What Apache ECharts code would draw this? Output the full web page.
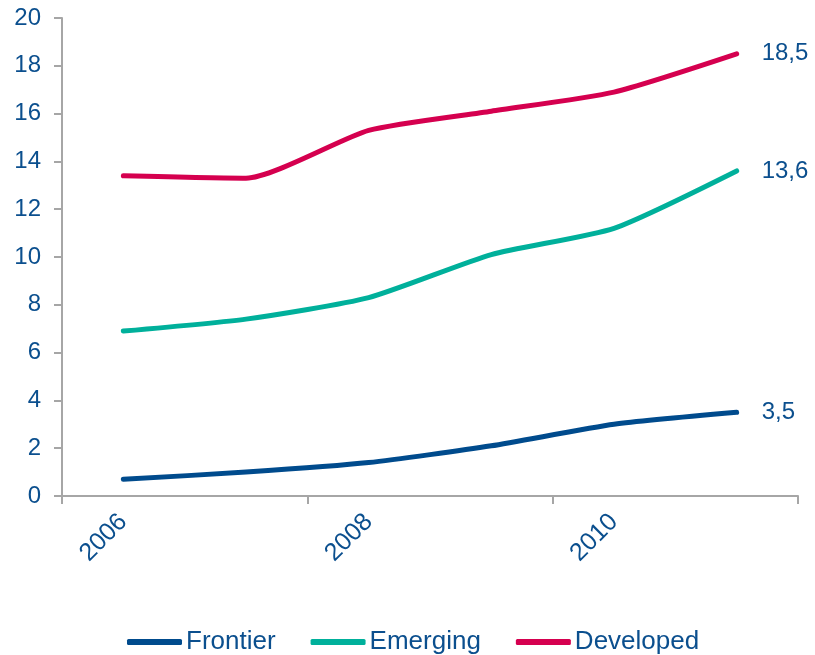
<!DOCTYPE html>
<html>
<head>
<meta charset="utf-8">
<style>
  html, body { margin: 0; padding: 0; background: #ffffff; }
  #chart { width: 815px; height: 655px; }
</style>
<script src="https://cdn.jsdelivr.net/npm/echarts@6/dist/echarts.min.js"></script>
</head>
<body>
<div id="chart"></div>
<script>
// Years on the horizontal axis
const years = ['2006', '2007', '2008', '2009', '2010', '2011'];

// Series values per year
const frontier  = [0.7, 1.0, 1.4, 2.1, 3.0, 3.5];
const emerging  = [6.9, 7.4, 8.3, 10.1, 11.2, 13.6];
const developed = [13.4, 13.3, 15.3, 16.1, 16.9, 18.5];

const seriesNames = ['Frontier', 'Emerging', 'Developed'];
const seriesColors = ['#004B8D', '#00B09B', '#D5004F'];

const textColor = '#0B4F8E';
const axisGrey = '#A6A6A6';
const fontFamily = '"Liberation Sans", Arial, sans-serif';

const chart = echarts.init(document.getElementById('chart'));

function lineSeries(name, data, color) {
  return {
    name: name,
    type: 'line',
    data: data,
    smooth: 0.2,
    symbol: 'none',
    lineStyle: { color: color, width: 5, cap: 'round', join: 'round' },
    itemStyle: { color: color },
    endLabel: {
      show: true,
      distance: 25,
      color: textColor,
      fontSize: 24,
      fontFamily: fontFamily,
      formatter: p => String(p.value).replace('.', ',')
    },
    emphasis: { disabled: true }
  };
}

chart.setOption({
  animation: false,
  backgroundColor: '#ffffff',
  textStyle: { fontFamily: fontFamily },
  grid: { left: 62, right: 17, top: 18, bottom: 159 },
  legend: {
    top: 624,
    left: 122,
    icon: 'roundRect',
    itemWidth: 55,
    itemHeight: 6,
    itemGap: 35,
    textStyle: { color: textColor, fontSize: 26, fontFamily: fontFamily, padding: [0, 0, 0, -1] },
    data: seriesNames
  },
  xAxis: {
    type: 'category',
    data: years,
    boundaryGap: true,
    axisLine: { lineStyle: { color: axisGrey, width: 2 } },
    axisTick: { show: true, interval: 1, length: 8, lineStyle: { color: axisGrey, width: 2 } },
    axisLabel: {
      interval: 1,
      rotate: 45,
      margin: 22,
      color: textColor,
      fontSize: 25,
      fontFamily: fontFamily
    },
    splitLine: { show: false }
  },
  yAxis: {
    type: 'value',
    min: 0,
    max: 20,
    interval: 2,
    axisLine: { show: true, lineStyle: { color: axisGrey, width: 2 } },
    axisTick: { show: true, length: 8, lineStyle: { color: axisGrey, width: 2 } },
    axisLabel: { color: textColor, fontSize: 24, fontFamily: fontFamily, margin: 21 },
    splitLine: { show: false }
  },
  series: [
    lineSeries(seriesNames[0], frontier, seriesColors[0]),
    lineSeries(seriesNames[1], emerging, seriesColors[1]),
    lineSeries(seriesNames[2], developed, seriesColors[2])
  ]
});
</script>
</body>
</html>
